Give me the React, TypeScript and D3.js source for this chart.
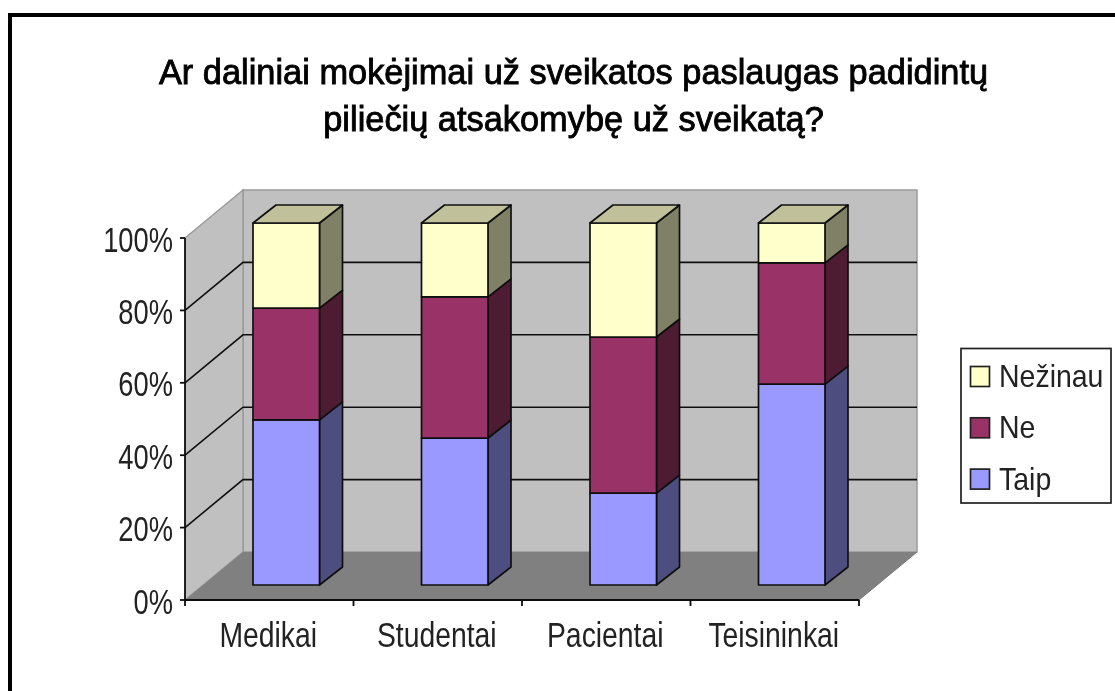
import React from "react";
import * as d3 from "d3";

const titleLines = ["Ar daliniai mokėjimai už sveikatos paslaugas padidintų", "piliečių atsakomybę už sveikatą?"];
const categories = ["Medikai", "Studentai", "Pacientai", "Teisininkai"];
const taip = [45.6, 40.6, 25.4, 55.5];
const ne = [30.9, 39, 43.1, 33.5];
const nezinau = [23.5, 20.4, 31.5, 11];
const seriesNames = ["Taip", "Ne", "Nežinau"];
const yTicks = [0, 20, 40, 60, 80, 100];

const front = ["#9999ff", "#993366", "#ffffcc"];
const side = ["#4d4d80", "#4d1a33", "#808066"];
const topFace = "#c0c09a";

const FONT = "'Liberation Sans', Arial, sans-serif";

function Narrow({ x, y, sx, size, anchor, children }: any) {
  return (
    <text transform={`translate(${x} ${y}) scale(${sx} 1)`} textAnchor={anchor} fontFamily={FONT} fontSize={size} fill="#222">
      {children}
    </text>
  );
}

export default function App() {
  const rows = categories.map((c, i) => ({ c, Taip: taip[i], Ne: ne[i], "Nežinau": nezinau[i] }));
  const stack = d3.stack<any>().keys(seriesNames)(rows);

  const x0 = 185, x1 = 859, y0 = 600, y1 = 238, dx = 58, dy = 48;
  const y = d3.scaleLinear().domain([0, 100]).range([y0, y1]);
  const band = d3.scaleBand().domain(categories).range([x0, x1]);
  const barW = 66.5;
  const barOff = { x: 17, y: 15 };
  const barDepth = { x: 23, y: 18 };
  const line = d3.line();
  const pts = (p: [number, number][]) => line(p) + "Z";

  return (
    <svg width={1115} height={691} style={{ position: "absolute", left: 0, top: 0, background: "#fff" }}>
      <defs>
        <filter id="soft" x="-2%" y="-2%" width="104%" height="104%">
          <feGaussianBlur stdDeviation="0.55" />
        </filter>
      </defs>
      <g filter="url(#soft)">
        <path d="M10 691V15H1115" fill="none" stroke="#000" strokeWidth={4} />

        {/* walls and floor */}
        <path d={pts([[x0 + dx, y1 - dy], [x1 + dx, y1 - dy], [x1 + dx, y0 - dy], [x0 + dx, y0 - dy]])} fill="#c0c0c0" stroke="#9a9a9a" strokeWidth={1.5} />
        <path d={pts([[x0, y1], [x0 + dx, y1 - dy], [x0 + dx, y0 - dy], [x0, y0]])} fill="#c0c0c0" stroke="#9a9a9a" strokeWidth={1.5} />
        <path d={pts([[x0, y0], [x0 + dx, y0 - dy], [x1 + dx, y0 - dy], [x1, y0]])} fill="#808080" />
        <path d={`M${x0} ${y0}L${x1} ${y0}L${x1 + dx} ${y0 - dy}`} fill="none" stroke="#777" strokeWidth={1} />

        {/* gridlines */}
        {yTicks.filter((t) => t > 0 && t < 100).map((t) => (
          <path key={t} d={`M${x0} ${y(t)}L${x0 + dx} ${y(t) - dy}L${x1 + dx} ${y(t) - dy}`} fill="none" stroke="#111" strokeWidth={1.6} />
        ))}

        {/* axes */}
        <path d={`M${x0} ${y1}V${y0}H${x1}`} fill="none" stroke="#111" strokeWidth={1.8} />
        {yTicks.map((t) => (
          <g key={t}>
            <line x1={x0 - 5} x2={x0} y1={y(t)} y2={y(t)} stroke="#111" strokeWidth={1.8} />
            <Narrow x={173} y={y(t) + 13.5} sx={0.78} size={35} anchor="end">{t}%</Narrow>
          </g>
        ))}
        {d3.range(5).map((i) => (
          <line key={i} x1={x0 + (i * (x1 - x0)) / 4} x2={x0 + (i * (x1 - x0)) / 4} y1={y0} y2={y0 + 6} stroke="#111" strokeWidth={1.8} />
        ))}

        {/* bars */}
        {categories.map((c, i) => {
          const cx = band(c)! + band.bandwidth() / 2 + barOff.x;
          const l = cx - barW / 2, r = cx + barW / 2;
          const Y = (v: number) => y(v) - barOff.y;
          return (
            <g key={c} stroke="#111" strokeWidth={1.7} strokeLinejoin="round">
              {stack.map((s, k) => (
                <g key={s.key}>
                  <path d={pts([[r, Y(s[i][0])], [r + barDepth.x, Y(s[i][0]) - barDepth.y], [r + barDepth.x, Y(s[i][1]) - barDepth.y], [r, Y(s[i][1])]])} fill={side[k]} />
                  <rect x={l} y={Y(s[i][1])} width={barW} height={Y(s[i][0]) - Y(s[i][1])} fill={front[k]} />
                </g>
              ))}
              <path d={pts([[l, Y(100)], [l + barDepth.x, Y(100) - barDepth.y], [r + barDepth.x, Y(100) - barDepth.y], [r, Y(100)]])} fill={topFace} />
            </g>
          );
        })}

        {/* category labels */}
        {categories.map((c) => (
          <Narrow key={c} x={band(c)! + band.bandwidth() / 2 - 1} y={647} sx={0.81} size={35} anchor="middle">{c}</Narrow>
        ))}

        {/* title */}
        {titleLines.map((t, i) => (
          <text key={t} transform={`translate(573.5 ${84 + i * 47}) scale(0.955 1)`} textAnchor="middle" fontFamily={FONT} fontSize={36} stroke="#000" strokeWidth={0.9} fill="#000">{t}</text>
        ))}

        {/* legend */}
        <rect x={961} y={348.5} width={150} height={154.5} fill="#fff" stroke="#222" strokeWidth={1.7} />
        {[...seriesNames].reverse().map((n, i) => {
          const ly = 376.5 + i * 51.3;
          return (
            <g key={n}>
              <rect x={970.5} y={ly - 10} width={19} height={20} fill={front[2 - i]} stroke="#222" strokeWidth={1.7} />
              <Narrow x={999} y={ly + 10.5} sx={0.89} size={32} anchor="start">{n}</Narrow>
            </g>
          );
        })}
      </g>
    </svg>
  );
}
